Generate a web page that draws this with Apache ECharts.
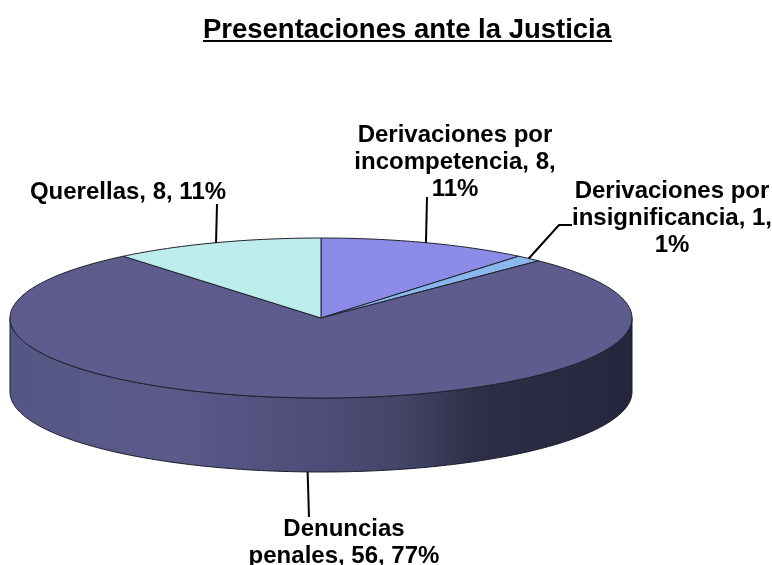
<!DOCTYPE html>
<html>
<head>
<meta charset="utf-8">
<style>
  html, body { margin: 0; padding: 0; background: #fff; }
  #chart { width: 772px; height: 565px; }
</style>
</head>
<body>
<div id="chart"></div>
<script src="https://cdn.jsdelivr.net/npm/echarts@6/dist/echarts.min.js"></script>
<script>
// data, clockwise from 12 o'clock
const categories = ['Derivaciones por incompetencia', 'Derivaciones por insignificancia', 'Denuncias penales', 'Querellas']
const values = [8, 1, 56, 8]
const labelTexts = [
  'Derivaciones por\nincompetencia, 8,\n11%',
  'Derivaciones por\ninsignificancia, 1,\n1%',
  'Denuncias\npenales, 56, 77%',
  'Querellas, 8, 11%',
]
const sliceColors = ['#8c8ce8', '#88b8ec', '#5d5c8c', '#bcecec']

// fake 3d pie geometry
const CX = 321, CY = 318, RX = 311, RY = 80, DEPTH = 74
const FONT = 'Liberation Sans'
// label centre and leader end, same order as categories
const labelPos = [[455, 162], [672, 218], [344, 543], [128, 192]]
const leaderEnd = [[[427, 197]], [[559, 225], [572, 225]], [[309, 517]], [[217, 204]]]

const total = values.reduce((a, b) => a + b, 0)

function rimPoint(deg, dy = 0) {
  const a = (deg * Math.PI) / 180
  return [CX + RX * Math.sin(a), CY - RY * Math.cos(a) + dy]
}

function arcPoints(from, to, dy = 0) {
  const pts = []
  const n = Math.max(2, Math.ceil(to - from))
  for (let i = 0; i <= n; i++) pts.push(rimPoint(from + ((to - from) * i) / n, dy))
  return pts
}

function startAngle(idx) {
  let sum = 0
  for (let i = 0; i < idx; i++) sum += values[i]
  return (sum / total) * 360
}

const wallGradient = new echarts.graphic.LinearGradient(0, 0, 1, 0, [
  { offset: 0, color: '#565684' },
  { offset: 0.25, color: '#5b5a8a' },
  { offset: 0.5, color: '#4e4d78' },
  { offset: 0.63, color: '#444468' },
  { offset: 0.75, color: '#2e2e48' },
  { offset: 1, color: '#25253d' },
])

function renderSlice(params, api) {
  const idx = params.dataIndex
  const from = startAngle(idx)
  const to = from + (api.value(0) / total) * 360
  const children = []

  // only the front half of the rim is visible
  const wallFrom = Math.max(from, 90)
  const wallTo = Math.min(to, 270)
  if (wallTo > wallFrom) {
    children.push({
      type: 'polygon',
      shape: { points: arcPoints(wallFrom, wallTo).concat(arcPoints(wallFrom, wallTo, DEPTH).reverse()) },
      style: { fill: wallGradient, stroke: '#1c1c2c', lineWidth: 1 },
    })
  }

  children.push({
    type: 'polygon',
    shape: { points: [[CX, CY]].concat(arcPoints(from, to)) },
    style: { fill: sliceColors[idx], stroke: '#20202e', lineWidth: 1 },
  })

  // leader line starts at the middle of the slice's visible edge
  const mid = (from + to) / 2
  const front = mid > 90 && mid < 270
  children.push({
    type: 'polyline',
    shape: { points: [rimPoint(mid, front ? DEPTH : 0)].concat(leaderEnd[idx]) },
    style: { fill: null, stroke: '#000', lineWidth: 2 },
  })

  children.push({
    type: 'text',
    style: {
      x: labelPos[idx][0],
      y: labelPos[idx][1],
      text: labelTexts[idx],
      align: 'center',
      verticalAlign: 'middle',
      fontFamily: FONT,
      fontWeight: 'bold',
      fontSize: 24,
      lineHeight: 27,
      fill: '#000',
    },
  })

  return { type: 'group', children }
}

const chart = echarts.init(document.getElementById('chart'), null, { renderer: 'canvas' })
chart.setOption({
  backgroundColor: '#fff',
  animation: false,
  title: {
    text: 'Presentaciones ante la Justicia',
    left: 402,
    top: 11,
    textAlign: 'center',
    textStyle: { fontFamily: FONT, fontWeight: 'bold', fontSize: 27.5, color: '#000' },
  },
  graphic: [
    { type: 'line', shape: { x1: 203, y1: 41, x2: 612, y2: 41 }, style: { stroke: '#000', lineWidth: 2 } },
  ],
  series: [
    {
      type: 'custom',
      coordinateSystem: 'none',
      renderItem: renderSlice,
      silent: true,
      data: values.map((v, i) => ({ name: categories[i], value: [v] })),
    },
  ],
})
</script>
</body>
</html>
